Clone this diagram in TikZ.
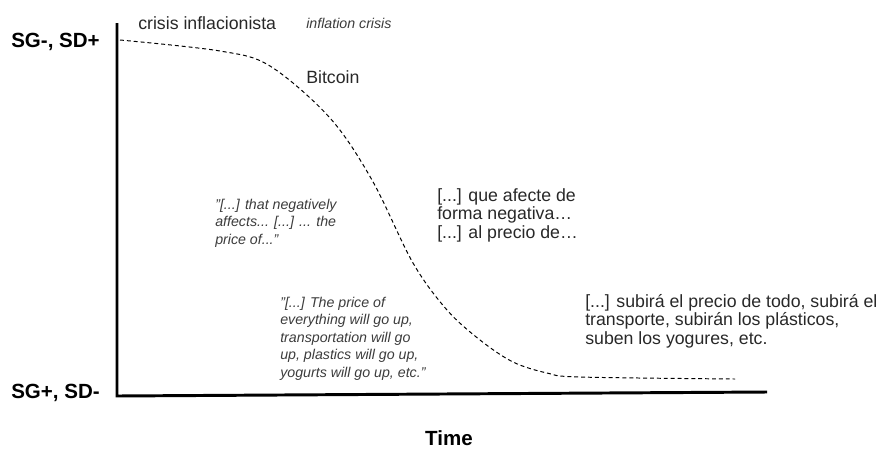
\documentclass[tikz,border=0pt]{standalone}
\usepackage{fontspec}
\setmainfont{Liberation Sans}
\usepackage{tikz}
\usetikzlibrary{positioning,calc}
\definecolor{quotegray}{RGB}{60,60,60}
\definecolor{textgray}{RGB}{40,40,40}

\begin{document}
\begin{tikzpicture}[x=0.025cm,y=-0.025cm,
    esp/.style={anchor=base west,inner sep=0pt,align=left,text=textgray,font=\fontsize{12.6}{13.1}\selectfont},
    eng/.style={anchor=base west,inner sep=0pt,align=left,text=quotegray,font=\fontsize{10.1}{12.4}\selectfont\itshape},
    axislabel/.style={inner sep=0pt,font=\fontsize{14.6}{16}\selectfont\bfseries}]
    \useasboundingbox (0,0) rectangle (879,448);

    % axes
    \coordinate (ytop) at (117,23);
    \coordinate (origin) at (117,396);
    \coordinate (xend) at (767,392);
    \draw[line width=2.1pt] (ytop) -- (origin) -- (xend);
    \node[axislabel,anchor=base east] (sdplus) at (100,47) {SG-, SD+};
    \node[axislabel,anchor=base east] (sdminus) at (100,398) {SG+, SD-};
    \node[axislabel,anchor=base] (time) at (449,445) {Time};

    % trajectory
    \draw[line width=0.7pt,dash pattern=on 2.8pt off 2.1pt] plot[smooth,tension=0.55] coordinates
        {(120,40) (220,51) (270,66) (330,118) (372,180) (413,263) (447,310) (480,340) (513,362) (547,373) (580,377) (735,379)};

    % top labels
    \node[esp] (crisis) at (138,29) {crisis inflacionista};
    \node[eng] (inflation) at (306,28) {inflation crisis};
    \node[esp] (bitcoin) at (306,83) {Bitcoin};

    % middle quotes (base = last line)
    \node[eng] (negen) at (215,244) {"{[...]} that negatively\\affects... {[...]} ... the\\price of..."};
    \node[esp] (neges) at (437,238) {{[...]} que afecte de\\forma negativa…\\{[...]} al precio de…};

    % bottom quotes
    \node[eng] (priceen) at (280,377) {"{[...]} The price of\\everything will go up,\\transportation will go\\up, plastics will go up,\\yogurts will go up, etc."};
    \node[esp] (pricees) at (585,344) {{[...]} subirá el precio de todo, subirá el\\transporte, subirán los plásticos,\\suben los yogures, etc.};
\end{tikzpicture}
\end{document}
